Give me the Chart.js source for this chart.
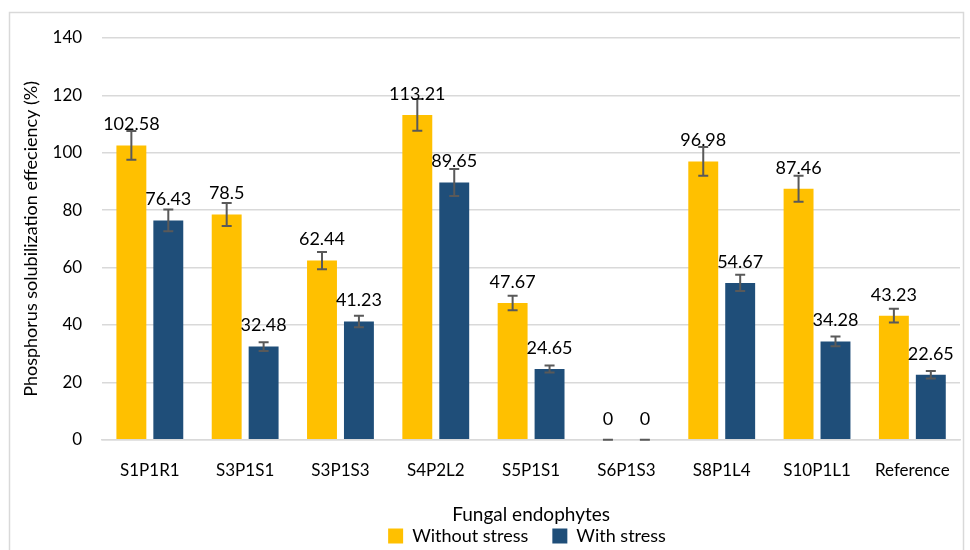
<!DOCTYPE html>
<html>
<head>
<meta charset="utf-8">
<script src="https://cdn.jsdelivr.net/npm/chart.js@4.4.0/dist/chart.umd.min.js"></script>
<style>
  html, body { margin: 0; padding: 0; background: #fff; }
  #wrap { width: 970px; height: 550px; position: relative; }
</style>
</head>
<body>
<div id="wrap"><canvas id="grafico" width="970" height="550"></canvas></div>
<script>
const categorias = ["S1P1R1", "S3P1S1", "S3P1S3", "S4P2L2", "S5P1S1", "S6P1S3", "S8P1L4", "S10P1L1", "Reference"];
const semEstresse = [102.58, 78.5, 62.44, 113.21, 47.67, 0, 96.98, 87.46, 43.23];
const comEstresse = [76.43, 32.48, 41.23, 89.65, 24.65, 0, 54.67, 34.28, 22.65];
const erroSem = [5, 4, 3, 5.5, 2.5, 0, 5, 4.5, 2.4];
const erroCom = [3.8, 1.5, 2, 4.7, 1.2, 0, 2.8, 1.7, 1.3];
const ticksY = [0, 20, 40, 60, 80, 100, 120, 140];

const fonte = "Lato, 'Open Sans', sans-serif";

// moldura cinza em volta do grafico
const moldura = {
    id: 'moldura',
    afterLayout(chart) {
        // legenda um pouco deslocada para a direita, como no original
        chart.legend.left += 74;
    },
    beforeDraw(chart) {
        const ctx = chart.ctx;
        ctx.save();
        ctx.fillStyle = '#fff';
        ctx.fillRect(0, 0, chart.width, chart.height);
        ctx.strokeStyle = '#d9d9d9';
        ctx.lineWidth = 1.5;
        ctx.strokeRect(9.5, 12.5, 954, 560);
        ctx.restore();
    }
};

// barras de erro e rotulos dos valores
const errosERotulos = {
    id: 'errosERotulos',
    afterDatasetsDraw(chart) {
        const ctx = chart.ctx;
        const y = chart.scales.y;
        const erros = [erroSem, erroCom];
        ctx.save();
        chart.data.datasets.forEach(function (ds, d) {
            const meta = chart.getDatasetMeta(d);
            meta.data.forEach(function (barra, i) {
                const v = ds.data[i];
                const e = erros[d][i];
                const x = barra.x;
                const yTopo = y.getPixelForValue(v + e);
                const yBase = y.getPixelForValue(v - e);
                ctx.strokeStyle = '#595959';
                ctx.lineWidth = 2;
                ctx.beginPath();
                ctx.moveTo(x, yTopo);
                ctx.lineTo(x, yBase);
                ctx.moveTo(x - 5, yTopo);
                ctx.lineTo(x + 5, yTopo);
                ctx.moveTo(x - 5, yBase);
                ctx.lineTo(x + 5, yBase);
                ctx.stroke();

                ctx.fillStyle = '#000';
                ctx.font = '18px ' + fonte;
                ctx.textAlign = 'center';
                ctx.textBaseline = 'middle';
                ctx.fillText(String(v), x, barra.y - 21);
            });
        });
        ctx.restore();
    }
};

new Chart(document.getElementById('grafico'), {
    type: 'bar',
    data: {
        labels: categorias,
        datasets: [{
            label: 'Without stress',
            data: semEstresse,
            backgroundColor: '#FFC000',
            barPercentage: 0.81,
            categoryPercentage: 0.775
        }, {
            label: 'With stress',
            data: comEstresse,
            backgroundColor: '#1F4E79',
            barPercentage: 0.81,
            categoryPercentage: 0.775
        }]
    },
    options: {
        responsive: false,
        animation: false,
        layout: {
            padding: { left: 20, right: 10, top: 38, bottom: -5 }
        },
        plugins: {
            tooltip: { enabled: false },
            legend: {
                position: 'bottom',
                labels: {
                    color: '#000',
                    font: { family: fonte, size: 18 },
                    boxWidth: 15,
                    boxHeight: 15,
                    padding: 24
                }
            }
        },
        scales: {
            x: {
                grid: { display: false },
                border: { color: '#d9d9d9', width: 1.5 },
                ticks: {
                    color: '#000',
                    font: { family: fonte, size: 17 },
                    padding: 13
                },
                title: {
                    display: true,
                    text: 'Fungal endophytes',
                    color: '#000',
                    font: { family: fonte, size: 19 },
                    padding: { top: 9, bottom: -23 }
                }
            },
            y: {
                min: 0,
                max: 140,
                afterBuildTicks(eixo) {
                    eixo.ticks = ticksY.map(function (v) { return { value: v }; });
                },
                grid: { color: '#d9d9d9', lineWidth: 1.5, drawTicks: false },
                border: { display: false },
                ticks: {
                    color: '#000',
                    font: { family: fonte, size: 17 },
                    padding: 20
                },
                title: {
                    display: true,
                    text: 'Phosphorus solubilization effeciency (%)',
                    color: '#000',
                    font: { family: fonte, size: 18 },
                    padding: { top: 0, bottom: -9 }
                }
            }
        }
    },
    plugins: [moldura, errosERotulos]
});
</script>
</body>
</html>
